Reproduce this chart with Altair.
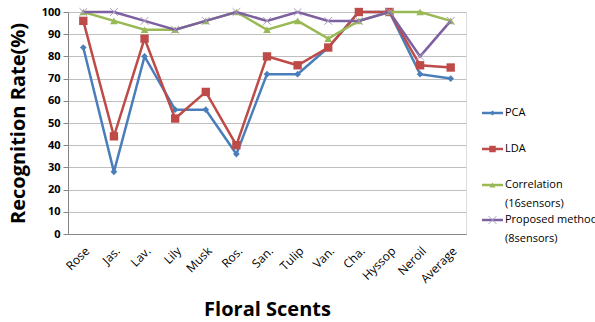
import altair as alt
import pandas as pd

categories = ["Rose", "Jas.", "Lav.", "Lily", "Musk", "Ros.", "San.", "Tulip",
              "Van.", "Cha.", "Hyssop", "Neroil", "Average"]
pca = [84, 28, 80, 56, 56, 36, 72, 72, 84, 100, 100, 72, 70]
lda = [96, 44, 88, 52, 64, 40, 80, 76, 84, 100, 100, 76, 75]
corr = [100, 96, 92, 92, 96, 100, 92, 96, 88, 96, 100, 100, 96]
proposed = [100, 100, 96, 92, 96, 100, 96, 100, 96, 96, 100, 80, 96]

series_names = ["PCA", "LDA", "Correlation (16sensors)", "Proposed method (8sensors)"]
series_values = [pca, lda, corr, proposed]
legend_lines = [["PCA"], ["LDA"], ["Correlation", "(16sensors)"],
                ["Proposed method", "(8sensors)"]]
colors = ["#4A7EBB", "#BE4B48", "#98B954", "#7D60A0"]

# styling / layout
shapes = ["diamond", "square", "triangle-up", "M-1,-1L1,1M-1,1L1,-1"]
sizes = [45, 70, 60, 60]
FONT = "Open Sans"
W, H = 398, 222
legend_y = [101, 137, 173, 208]
line_gap = 19

rows = []
for name, vals in zip(series_names, series_values):
    for c, v in zip(categories, vals):
        rows.append({"series": name, "category": c, "value": v})
df = pd.DataFrame(rows)

x_enc = alt.X(
    "category:N", sort=categories,
    scale=alt.Scale(type="point", padding=0.5),
    axis=alt.Axis(
        title="Floral Scents", titleFontSize=20, titleFontWeight="bold",
        titleFont=FONT, titleColor="black", titleBaseline="middle",
        titleY=75, labelAngle=-45, labelFontSize=12, labelFont=FONT,
        labelColor="black", ticks=False, domainColor="#868686", grid=False,
        labelPadding=11,
    ),
)
y_enc = alt.Y(
    "value:Q",
    scale=alt.Scale(domain=[0, 100], nice=False),
    axis=alt.Axis(
        title="Recognition Rate(%)", titleFontSize=20, titleFontWeight="bold",
        titleFont=FONT, titleColor="black", titleAngle=-90,
        titleBaseline="middle", titleX=-50, titleY=H / 2,
        values=list(range(0, 101, 10)), labelFontSize=11,
        labelFontWeight="bold", labelFont=FONT, labelColor="black",
        tickSize=5, tickColor="#868686", domainColor="#868686",
        gridColor="#BFBFBF", labelPadding=3,
    ),
)

layers = []
for i, name in enumerate(series_names):
    base = alt.Chart(df).transform_filter(alt.datum.series == name).encode(
        x=x_enc, y=y_enc)
    layers.append(base.mark_line(color=colors[i], strokeWidth=2.5))
    if i == 3:
        layers.append(base.mark_point(shape=shapes[i], size=sizes[i],
                                      filled=False, color="#A89CC0",
                                      strokeWidth=1, opacity=1))
    else:
        layers.append(base.mark_point(shape=shapes[i], size=sizes[i],
                                      filled=True, color=colors[i], opacity=1))

# manual legend
for i, name in enumerate(series_names):
    one = pd.DataFrame({"series": [name]})
    yv = legend_y[i]
    layers.append(alt.Chart(one).mark_rule(color=colors[i], strokeWidth=2.5).encode(
        x=alt.value(414), x2=alt.value(435), y=alt.value(yv)))
    if i == 3:
        layers.append(alt.Chart(one).mark_point(shape=shapes[i], size=sizes[i],
                                                filled=False, color="#A89CC0",
                                                strokeWidth=1, opacity=1).encode(
            x=alt.value(424.5), y=alt.value(yv)))
    else:
        layers.append(alt.Chart(one).mark_point(shape=shapes[i], size=sizes[i] * 0.6,
                                                filled=True, color=colors[i],
                                                opacity=1).encode(
            x=alt.value(424.5), y=alt.value(yv)))
    for j, line in enumerate(legend_lines[i]):
        t = pd.DataFrame({"label": [line]})
        layers.append(alt.Chart(t).mark_text(align="left", baseline="middle",
                                             fontSize=11, font=FONT,
                                             color="black").encode(
            x=alt.value(437), y=alt.value(yv + j * line_gap),
            text="label:N"))

chart = alt.layer(*layers).properties(
    width=W, height=H,
    autosize=alt.AutoSizeParams(type="none"),
    padding={"left": 68, "top": 12, "right": 129, "bottom": 88},
).configure_view(stroke=None).configure(background="white")

chart.save("out.html", embed_options={"renderer": "svg", "actions": False})
